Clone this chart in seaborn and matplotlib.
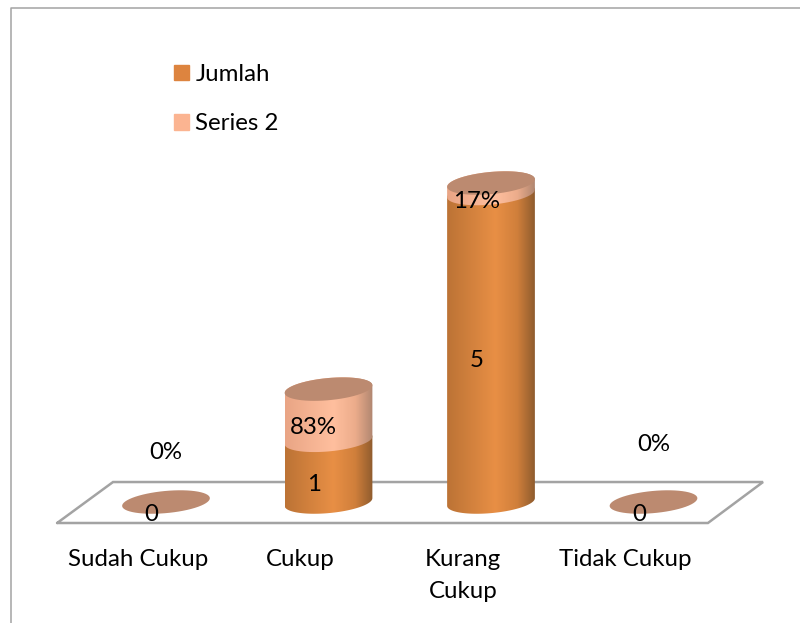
import numpy as np
import pandas as pd
import matplotlib
matplotlib.use("Agg")
import matplotlib.pyplot as plt
import seaborn as sns
from matplotlib.colors import LinearSegmentedColormap
from matplotlib.lines import Line2D
from matplotlib.patches import Patch, PathPatch, Polygon
from matplotlib.path import Path

# Values
categories = ["Sudah Cukup", "Cukup", "Kurang\nCukup", "Tidak Cukup"]
jumlah = [0, 1, 5, 0]
series_2 = [0.0, 0.83, 0.17, 0.0]
jumlah_labels = ["0", "1", "5", "0"]
series_2_labels = ["0%", "83%", "17%", "0%"]

ORANGE = "#DD843F"
PEACH = "#FBB491"
TOP = "#BC8A70"
GREY = "#A3A3A3"
FONT_SIZE = 17.3
orange_cmap = LinearSegmentedColormap.from_list(
    "orange", [(0, "#BC7335"), (0.55, "#E88F45"), (0.8, "#D07F3B"), (1, "#8F5C2E")])
peach_cmap = LinearSegmentedColormap.from_list(
    "peach", [(0, "#E9A585"), (0.55, "#FFBF9E"), (0.8, "#ECAC8B"), (1, "#B08670")])

sns.set_theme(style="white")
plt.rcParams["font.family"] = ["Lato", "DejaVu Sans"]

df = pd.DataFrame({"category": categories, "jumlah": jumlah, "series_2": series_2})
df["total"] = df["jumlah"] + df["series_2"]

fig = plt.figure(figsize=(8, 6.23), dpi=100)
ax = fig.add_axes([0, 100 / 623, 1, 523 / 623])

# bars give the geometry, the cylinders are painted over them
sns.barplot(data=df, x="category", y="total", color=PEACH, width=0.54, ax=ax)
sns.barplot(data=df, x="category", y="jumlah", color=ORANGE, width=0.54, ax=ax)
total_bars = ax.patches[:4]
jumlah_bars = ax.patches[4:8]

XLIM = (-1.0215, 3.9015)
YLIM = (-0.34, 8.136)
ELL_B = 0.18
ELL_SKEW = 0.062


def ellipse(cx, cy, a, start=0.0, stop=2 * np.pi):
    t = np.linspace(start, stop, 60)
    return np.column_stack([cx + a * np.cos(t), cy + ELL_B * np.sin(t) + ELL_SKEW * np.cos(t)])


def draw_body(x0, width, y_low, y_high, cmap, z):
    a = width / 2
    cx = x0 + a
    bottom = ellipse(cx, y_low, a, np.pi, 2 * np.pi)
    top = ellipse(cx, y_high, a, 0, np.pi)
    clip = Path(np.vstack([bottom, top, bottom[:1]]))
    grad = np.linspace(0, 1, 256).reshape(1, -1)
    im = ax.imshow(grad, cmap=cmap, aspect="auto", zorder=z, interpolation="bilinear",
                   extent=(x0, x0 + width, y_low - 0.3, y_high + 0.3))
    im.set_clip_path(PathPatch(clip, transform=ax.transData))


for i, (bar_total, bar_jumlah) in enumerate(zip(total_bars, jumlah_bars)):
    x0, width = bar_total.get_x(), bar_total.get_width()
    cx = x0 + width / 2
    low, high = bar_jumlah.get_height(), bar_total.get_height()
    bar_total.set_visible(False)
    bar_jumlah.set_visible(False)
    if low > 0:
        draw_body(x0, width, 0, low, orange_cmap, 3)
    if high > low:
        draw_body(x0, width, low, high, peach_cmap, 4)
    ax.add_patch(Polygon(ellipse(cx, high, width / 2), closed=True, fc=TOP, ec="none", zorder=5))

# floor of the 3D chart
floor_x = [-0.67, -0.326, 3.674, 3.335, -0.67]
floor_y = [-0.34, 0.324, 0.324, -0.34, -0.34]
ax.plot(floor_x, floor_y, color=GREY, lw=1.8, clip_on=False, zorder=2, solid_joinstyle="miter")

ax.set_xlim(*XLIM)
ax.set_ylim(*YLIM)
sns.despine(ax=ax, left=True, bottom=True, top=True, right=True)
ax.patch.set_visible(False)
ax.set_xlabel("")
ax.set_ylabel("")
ax.set_yticks([])
ax.set_xticks(np.arange(4) - 0.172, labels=categories, fontsize=FONT_SIZE, color="black", linespacing=1.62)
ax.tick_params(axis="x", length=0, pad=19)

# value labels sit a bit left of the middle of each section
for i in range(4):
    ax.text(i - 0.09, jumlah[i] / 2 - 0.21, jumlah_labels[i], ha="center", va="center",
            fontsize=FONT_SIZE, color="black", zorder=7)
    if series_2[i] > 0:
        ax.text(i - 0.09, jumlah[i] + series_2[i] / 2 - 0.21, series_2_labels[i], ha="center",
                va="center", fontsize=FONT_SIZE, color="black", zorder=7)
ax.text(0, 0.81, series_2_labels[0], ha="center", va="center", fontsize=FONT_SIZE, color="black")
ax.text(3, 0.94, series_2_labels[3], ha="center", va="center", fontsize=FONT_SIZE, color="black")

handles = [Patch(color=ORANGE, label="Jumlah"), Patch(color=PEACH, label="Series 2")]
ax.legend(handles=handles, loc="upper left", bbox_to_anchor=(174 / 800, 1 - 64 / 523), frameon=False,
          fontsize=FONT_SIZE, handlelength=0.62, handleheight=0.62, handletextpad=0.27,
          labelspacing=1.18, borderpad=0, borderaxespad=0, labelcolor="black")

# chart area border, only left and top show in the crop
fig.add_artist(Line2D([11 / 800, 11 / 800, 1], [0, 1 - 8 / 623, 1 - 8 / 623], color=GREY, lw=1.1))

fig.savefig("out.png", dpi=100, facecolor="white")
